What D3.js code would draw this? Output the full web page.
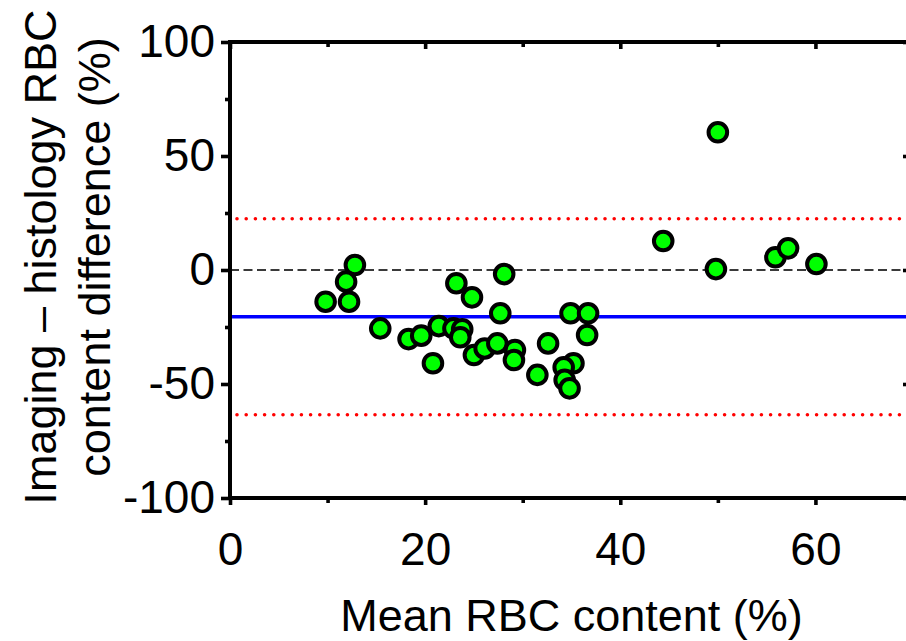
<!DOCTYPE html>
<html>
<head>
<meta charset="utf-8">
<script src="https://cdn.jsdelivr.net/npm/d3@7"></script>
<style>
    body { margin: 0; background: #fff; }
    svg { display: block; font-family: "Liberation Sans", Arial, sans-serif; }
</style>
</head>
<body>
<div id="chart"></div>
<script>
const CHART_WIDTH = 906;
const CHART_HEIGHT = 641;
const TICK_FONT = 46;
const TITLE_FONT = 45;

// mean of the two methods (x) and imaging - histology difference (y), in %
const meanRbc = [12.8, 11.9, 9.8, 12.2, 15.4, 18.3, 19.6, 21.4, 20.8, 22.9,
                 23.8, 23.6, 23.2, 24.8, 28.1, 27.7, 25.0, 26.1, 27.4, 29.2,
                 29.1, 32.6, 31.5, 35.2, 34.2, 34.3, 34.8, 34.9, 36.7, 36.6,
                 44.4, 50.0, 49.8, 55.9, 57.2, 60.1];
const rbcDiff = [2.2, -5.1, -13.9, -13.9, -25.6, -30.3, -28.8, -24.6, -40.9, -25.6,
                 -26.0, -29.5, -5.8, -12.0, -1.8, -19.0, -37.3, -34.4, -32.2, -35.1,
                 -39.5, -32.2, -46.0, -40.9, -42.7, -48.2, -51.9, -19.0, -19.0, -28.5,
                 12.7, 60.4, 0.4, 5.6, 9.5, 2.6];

const bias = -20.5;
const limitsOfAgreement = [22.5, -63.5];

const xMajorTicks = [0, 20, 40, 60];
const xMinorTicks = [10, 30, 50];
const yMajorTicks = [-100, -50, 0, 50, 100];
const yMinorTicks = [-75, -25, 25, 75];

const data = meanRbc.map((m, i) => ({ mean: m, diff: rbcDiff[i] }));

const svg = d3.select('#chart')
    .append('svg')
    .attr('width', CHART_WIDTH)
    .attr('height', CHART_HEIGHT);

// Scales (right end of the frame falls just outside the picture)
const xScale = d3.scaleLinear()
    .domain([0, 70])
    .range([230, 913]);

const yScale = d3.scaleLinear()
    .domain([-100, 100])
    .range([498, 42]);

const x0 = xScale(0), x1 = xScale(70);
const y0 = yScale(-100), y1 = yScale(100);

// Reference lines
svg.append('line')
    .attr('x1', x0).attr('x2', x1)
    .attr('y1', yScale(0)).attr('y2', yScale(0))
    .attr('stroke', '#3a3a3a')
    .attr('stroke-width', 2.2)
    .attr('stroke-dasharray', '9 4.5');

svg.selectAll('.loa')
    .data(limitsOfAgreement)
    .enter()
    .append('line')
    .attr('class', 'loa')
    .attr('x1', x0 + 7).attr('x2', x1)
    .attr('y1', d => yScale(d)).attr('y2', d => yScale(d))
    .attr('stroke', '#ff0000')
    .attr('stroke-width', 3.6)
    .attr('stroke-linecap', 'round')
    .attr('stroke-dasharray', '0 9.2');

svg.append('line')
    .attr('x1', x0).attr('x2', x1)
    .attr('y1', yScale(bias)).attr('y2', yScale(bias))
    .attr('stroke', '#0000ff')
    .attr('stroke-width', 3.5);

// Axes
const plain = d => String(d);   // hyphen minus, as in the original

function styleAxis(g) {
    g.select('.domain').remove();
    g.selectAll('.tick line').attr('stroke', '#000').attr('stroke-width', 3.6);
    g.selectAll('.tick text')
        .attr('fill', '#000')
        .style('font-size', TICK_FONT + 'px')
        .style('font-family', '"Liberation Sans", Arial, sans-serif');
}

// bottom
svg.append('g')
    .attr('transform', `translate(0,${y0})`)
    .call(d3.axisBottom(xScale).tickValues(xMinorTicks).tickSize(5).tickFormat(''))
    .call(styleAxis);
svg.append('g')
    .attr('transform', `translate(0,${y0})`)
    .call(d3.axisBottom(xScale).tickValues(xMajorTicks).tickSize(7).tickPadding(27).tickFormat(plain))
    .call(styleAxis);

// top (mirror, ticks inward)
svg.append('g')
    .attr('transform', `translate(0,${y1})`)
    .call(d3.axisTop(xScale).tickValues(xMinorTicks).tickSize(-5).tickFormat(''))
    .call(styleAxis);
svg.append('g')
    .attr('transform', `translate(0,${y1})`)
    .call(d3.axisTop(xScale).tickValues(xMajorTicks).tickSize(-7).tickFormat(''))
    .call(styleAxis);

// left
svg.append('g')
    .attr('transform', `translate(${x0},0)`)
    .call(d3.axisLeft(yScale).tickValues(yMinorTicks).tickSize(5).tickFormat(''))
    .call(styleAxis);
svg.append('g')
    .attr('transform', `translate(${x0},0)`)
    .call(d3.axisLeft(yScale).tickValues(yMajorTicks).tickSize(9).tickPadding(6).tickFormat(plain))
    .call(styleAxis);

// right (mirror, ticks inward)
svg.append('g')
    .attr('transform', `translate(${x1},0)`)
    .call(d3.axisRight(yScale).tickValues(yMajorTicks).tickSize(-10).tickFormat(''))
    .call(styleAxis);

// Frame
svg.append('rect')
    .attr('x', x0).attr('y', y1)
    .attr('width', x1 - x0).attr('height', y0 - y1)
    .attr('fill', 'none')
    .attr('stroke', '#000')
    .attr('stroke-width', 4);

// Points
svg.selectAll('circle')
    .data(data)
    .enter()
    .append('circle')
    .attr('cx', d => xScale(d.mean))
    .attr('cy', d => yScale(d.diff))
    .attr('r', 9.3)
    .attr('fill', '#00ff00')
    .attr('stroke', '#000')
    .attr('stroke-width', 4);

// Axis titles
svg.append('text')
    .attr('x', (x0 + x1) / 2)
    .attr('y', 631)
    .attr('text-anchor', 'middle')
    .style('font-size', TITLE_FONT + 'px')
    .text('Mean RBC content (%)');

const yTitle = svg.append('g')
    .attr('transform', 'translate(0,257) rotate(-90)');
yTitle.append('text')
    .attr('x', 0).attr('y', 56)
    .attr('text-anchor', 'middle')
    .style('font-size', TITLE_FONT + 'px')
    .text('Imaging – histology RBC');
yTitle.append('text')
    .attr('x', 0).attr('y', 110)
    .attr('text-anchor', 'middle')
    .style('font-size', TITLE_FONT + 'px')
    .text('content difference (%)');
</script>
</body>
</html>
